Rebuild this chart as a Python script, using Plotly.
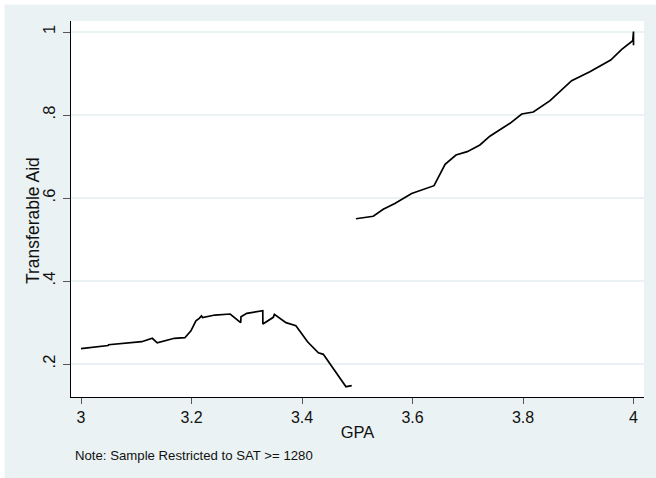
import plotly.graph_objects as go

# Left segment (GPA < 3.5)
gpa_low = [3.0, 3.049, 3.05, 3.110, 3.129, 3.138, 3.169, 3.188, 3.199, 3.208, 3.214,
           3.218, 3.220, 3.2425, 3.270, 3.289, 3.2896, 3.300, 3.329, 3.3292, 3.348,
           3.350, 3.371, 3.389, 3.410, 3.4296, 3.4386, 3.4796, 3.490]
aid_low = [0.237, 0.2445, 0.2465, 0.2537, 0.262, 0.251, 0.262, 0.2634, 0.280, 0.304, 0.310,
           0.316, 0.312, 0.318, 0.3205, 0.2996, 0.314, 0.322, 0.3285, 0.2964, 0.3125,
           0.3197, 0.2996, 0.2924, 0.2537, 0.227, 0.2233, 0.1453, 0.1477]

# Right segment (GPA >= 3.5)
gpa_high = [3.4977, 3.529, 3.547, 3.568, 3.5985, 3.639, 3.659, 3.6787, 3.699, 3.722,
            3.740, 3.757, 3.7765, 3.7977, 3.8187, 3.849, 3.888, 3.921, 3.9587, 3.9787,
            3.9986, 4.0, 4.0]
aid_high = [0.550, 0.556, 0.5728, 0.587, 0.611, 0.6297, 0.681, 0.7036, 0.7116, 0.7277,
            0.749, 0.764, 0.780, 0.8024, 0.8072, 0.8345, 0.8827, 0.9043, 0.9325, 0.958,
            0.979, 1.001, 0.968]

x_ticks = [3, 3.2, 3.4, 3.6, 3.8, 4]
x_tick_labels = ["3", "3.2", "3.4", "3.6", "3.8", "4"]
y_ticks = [0.2, 0.4, 0.6, 0.8, 1.0]
y_tick_labels = [".2", ".4", ".6", ".8", "1"]

BG = "#EAF2F3"
FONT = "Liberation Sans, Arial, sans-serif"

fig = go.Figure()
line = dict(color="black", width=1.7)
fig.add_trace(go.Scatter(x=gpa_low, y=aid_low, mode="lines", line=line, showlegend=False))
fig.add_trace(go.Scatter(x=gpa_high, y=aid_high, mode="lines", line=line, showlegend=False))

L, R, T, B = 71, 12, 21, 81
W, H = 656, 478
pw, ph = W - L - R, H - T - B

fig.update_layout(
    width=W, height=H,
    margin=dict(l=L, r=R, t=T, b=B, pad=0),
    paper_bgcolor=BG, plot_bgcolor="white",
    font=dict(family=FONT, size=16, color="#111111"),
    xaxis=dict(
        range=[2.9819, 4.019], tickvals=x_ticks, ticktext=x_tick_labels,
        showgrid=False, zeroline=False, showline=True, linecolor="black", linewidth=1.2,
        ticks="outside", ticklen=6, tickcolor="#555555", tickwidth=1,
        tickfont=dict(size=16),
        title=dict(text="GPA", font=dict(size=16.5), standoff=1),
    ),
    yaxis=dict(
        range=[0.1205, 1.0265], tickvals=y_ticks, ticktext=y_tick_labels,
        tickangle=-90,
        showgrid=True, gridcolor=BG, gridwidth=1.5, zeroline=False,
        showline=True, linecolor="black", linewidth=1.2,
        ticks="outside", ticklen=7, tickcolor="#555555", tickwidth=1,
        tickfont=dict(size=16.5), ticklabelstandoff=1,
    ),
    annotations=[
        dict(text="Transferable Aid", textangle=-90, xref="paper", yref="paper",
             x=(33 - L) / pw, y=(H - B - 221) / ph, xanchor="center", yanchor="middle",
             showarrow=False, font=dict(size=17.5)),
        dict(text="Note: Sample Restricted to SAT >= 1280", xref="paper", yref="paper",
             x=(73 - L) / pw, y=(H - B - 455) / ph, xanchor="left", yanchor="middle",
             showarrow=False, font=dict(size=13.2)),
    ],
    shapes=[
        dict(type="rect", xref="paper", yref="paper", layer="below",
             x0=-L / pw, x1=(4.5 - L) / pw, y0=-B / ph, y1=(H - B) / ph,
             fillcolor="white", line=dict(width=0)),
        dict(type="rect", xref="paper", yref="paper", layer="below",
             x0=-L / pw, x1=(W - L) / pw, y0=(H - B - 4.5) / ph, y1=(H - B) / ph,
             fillcolor="white", line=dict(width=0)),
    ],
)

fig.write_html("out.html")
